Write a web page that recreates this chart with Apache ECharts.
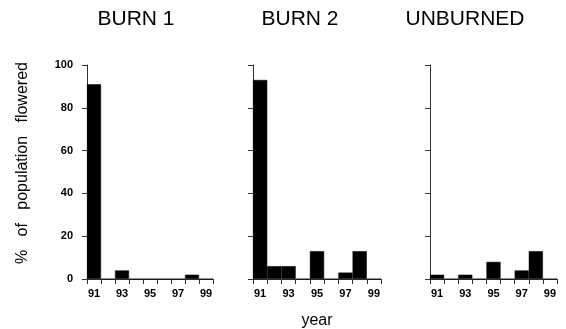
<!DOCTYPE html>
<html>
<head>
<meta charset="utf-8">
<script src="https://cdn.jsdelivr.net/npm/echarts@6/dist/echarts.min.js"></script>
<style>
  html, body { margin: 0; padding: 0; background: #fff; }
  #chart { width: 566px; height: 329px; }
</style>
</head>
<body>
<div id="chart"></div>
<script>
// years on the x axis (one bin per year)
var years = ['91', '92', '93', '94', '95', '96', '97', '98', '99'];
var yTicks = [0, 20, 40, 60, 80, 100];

// % of population flowered
var burn1 = [91, 0, 4, 0, 0, 0, 0, 2, 0];
var burn2 = [93, 6, 6, 0, 13, 0, 3, 13, 0];
var unburned = [2, 0, 2, 0, 8, 0, 4, 13, 0];

var panelNames = ['BURN 1', 'BURN 2', 'UNBURNED'];
var panelData = [burn1, burn2, unburned];

var font = 'Liberation Sans, Arial, Helvetica, sans-serif';
var axisColor = '#333';

var grids = [
  { left: 87, width: 126, top: 65, height: 214 },
  { left: 253, width: 128, top: 65, height: 214 },
  { left: 430, width: 127, top: 65, height: 214 }
];
var titleX = [131, 295, 460];

var chart = echarts.init(document.getElementById('chart'));

var xAxes = [], yAxes = [], series = [], titles = [];
panelData.forEach(function (vals, i) {
  xAxes.push({
    type: 'category',
    gridIndex: i,
    data: years,
    boundaryGap: true,
    axisLine: { lineStyle: { color: axisColor, width: 1 } },
    axisTick: { show: true, interval: 0, length: 5, lineStyle: { color: axisColor } },
    axisLabel: {
      interval: 1,
      color: '#000',
      fontFamily: font,
      fontWeight: 'bold',
      fontSize: 11,
      margin: 9
    }
  });
  yAxes.push({
    type: 'value',
    gridIndex: i,
    min: yTicks[0],
    max: yTicks[yTicks.length - 1],
    interval: 20,
    splitLine: { show: false },
    axisLine: { show: true, lineStyle: { color: axisColor, width: 1 } },
    axisTick: { show: true, length: 5, lineStyle: { color: axisColor } },
    axisLabel: {
      show: i === 0,
      color: '#000',
      fontFamily: font,
      fontWeight: 'bold',
      fontSize: 11,
      margin: 14
    }
  });
  series.push({
    type: 'bar',
    xAxisIndex: i,
    yAxisIndex: i,
    data: vals,
    barWidth: '100%',
    barGap: '0%',
    itemStyle: { color: '#000', borderColor: '#000', borderWidth: 0.5 },
    animation: false
  });
  titles.push({
    text: panelNames[i],
    left: titleX[i],
    top: 4,
    textAlign: 'center',
    textStyle: { fontFamily: font, fontWeight: 'normal', fontSize: 21, color: '#000' }
  });
});

chart.setOption({
  animation: false,
  title: titles,
  grid: grids,
  xAxis: xAxes,
  yAxis: yAxes,
  series: series,
  graphic: [
    {
      type: 'text',
      x: 23,
      y: 163,
      rotation: Math.PI / 2,
      style: {
        text: '%   of   population   flowered',
        font: '16px ' + font,
        fill: '#000',
        align: 'center',
        verticalAlign: 'middle'
      }
    },
    {
      type: 'text',
      x: 317,
      y: 321,
      style: {
        text: 'year',
        font: '16px ' + font,
        fill: '#000',
        align: 'center',
        verticalAlign: 'middle'
      }
    }
  ]
});
</script>
</body>
</html>
